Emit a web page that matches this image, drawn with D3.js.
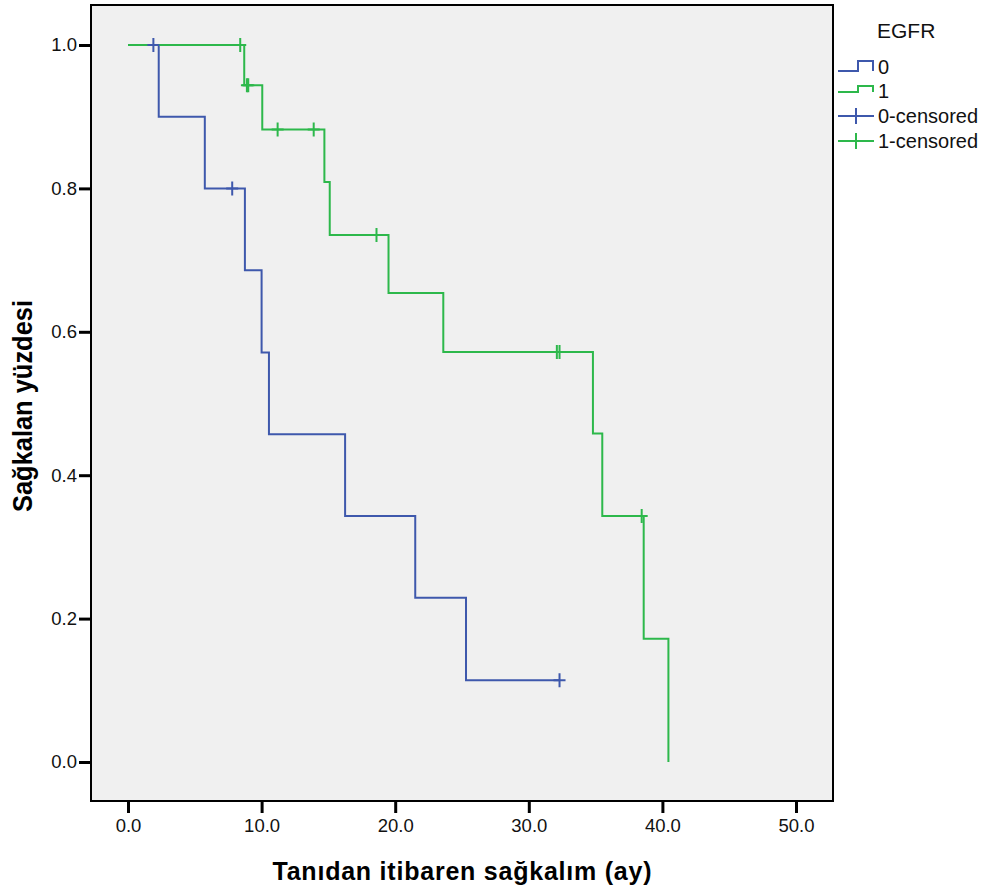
<!DOCTYPE html>
<html>
<head>
<meta charset="utf-8">
<script src="https://cdn.jsdelivr.net/npm/d3@7"></script>
<style>
  body { margin: 0; background: #fff; }
  text { font-family: "Liberation Sans", Arial, sans-serif; }
</style>
</head>
<body>
<svg class="svg"></svg>
<script>
// Kaplan-Meier step data
let egfr0Times = [0, 2.3, 5.75, 8.75, 10.0, 10.55, 16.25, 21.5, 25.3]
let egfr0Surv = [1.0, 0.9, 0.8, 0.686, 0.571, 0.457, 0.343, 0.229, 0.114]
let egfr0Censored = [1.9, 7.8, 32.3]
let egfr0End = 32.3

let egfr1Times = [0, 8.7, 10.05, 14.7, 15.1, 19.5, 23.6, 34.8, 35.5, 38.6, 40.45]
let egfr1Surv = [1.0, 0.944, 0.882, 0.809, 0.735, 0.654, 0.572, 0.458, 0.343, 0.172, 0.0]
let egfr1Censored = [8.4, 8.9, 9.0, 11.2, 13.9, 18.6, 32.1, 32.3, 38.45]
let egfr1End = 40.45

let xTicks = [0, 10, 20, 30, 40, 50]
let yTicks = [0, 0.2, 0.4, 0.6, 0.8, 1.0]
let legendLabels = ["0", "1", "0-censored", "1-censored"]

let blue = "#3E58AC"
let green = "#2DB84B"

let drawChart = () => {
    let svg = d3.select(".svg").attr("width", 985).attr("height", 890)
    svg.append("rect").attr("width", 985).attr("height", 890).attr("fill", "#fff")

    let left = 91, top = 5, right = 833, bottom = 801
    let x = d3.scaleLinear().domain([0, 50]).range([128, 796])
    let y = d3.scaleLinear().domain([0, 1]).range([762, 45])

    svg.append("rect")
        .attr("x", left).attr("y", top)
        .attr("width", right - left).attr("height", bottom - top)
        .attr("fill", "#f0f0f0")

    // axes
    let xAxis = d3.axisBottom(x).tickValues(xTicks).tickSize(12).tickFormat(d3.format(".1f"))
    let gx = svg.append("g").attr("transform", "translate(0," + bottom + ")").call(xAxis)
    let yAxis = d3.axisLeft(y).tickValues(yTicks).tickSize(12).tickFormat(d3.format(".1f"))
    let gy = svg.append("g").attr("transform", "translate(" + left + ",0)").call(yAxis)
    for (let g of [gx, gy]) {
        g.select(".domain").remove()
        g.selectAll(".tick line").attr("stroke", "#000").attr("stroke-width", 3)
        g.selectAll(".tick text").attr("fill", "#111").style("font-size", "18.5px")
    }
    gx.selectAll(".tick text").attr("y", 18)
    gy.selectAll(".tick text").attr("x", -14)

    let line = d3.line().x(d => x(d[0])).y(d => y(d[1])).curve(d3.curveStepAfter)

    let survAt = (times, surv, t) => {
        let s = surv[0]
        for (let i = 0; i < times.length; i++) {
            if (times[i] <= t) s = surv[i]
        }
        return s
    }

    let groups = [
        {times: egfr0Times, surv: egfr0Surv, cens: egfr0Censored, end: egfr0End, color: blue},
        {times: egfr1Times, surv: egfr1Surv, cens: egfr1Censored, end: egfr1End, color: green}
    ]

    groups.forEach(g => {
        let pts = g.times.map((t, i) => [t, g.surv[i]])
        let last = pts[pts.length - 1]
        if (g.end > last[0]) pts.push([g.end, last[1]])
        svg.append("path")
            .datum(pts)
            .attr("d", line)
            .attr("fill", "none")
            .attr("stroke", g.color)
            .attr("stroke-width", 2)
    })

    groups.forEach(g => {
        let marks = svg.append("g")
        marks.selectAll("path")
            .data(g.cens)
            .enter()
            .append("path")
            .attr("d", t => {
                let cx = x(t), cy = y(survAt(g.times, g.surv, t))
                return "M" + (cx - 6) + "," + cy + "H" + (cx + 6) + "M" + cx + "," + (cy - 7) + "V" + (cy + 7)
            })
            .attr("stroke", g.color)
            .attr("stroke-width", 2)
            .attr("fill", "none")
    })

    // frame on top
    svg.append("rect")
        .attr("x", left).attr("y", top)
        .attr("width", right - left).attr("height", bottom - top)
        .attr("fill", "none").attr("stroke", "#000").attr("stroke-width", 2)

    // titles
    svg.append("text")
        .attr("x", 462).attr("y", 880)
        .attr("text-anchor", "middle")
        .style("font-size", "25px").style("font-weight", "bold")
        .attr("textLength", 379)
        .text("Tanıdan itibaren sağkalım (ay)")
    svg.append("text")
        .attr("transform", "translate(32,406) rotate(-90)")
        .attr("text-anchor", "middle")
        .style("font-size", "27px").style("font-weight", "bold")
        .attr("textLength", 212).attr("lengthAdjust", "spacingAndGlyphs")
        .text("Sağkalan yüzdesi")

    // legend
    svg.append("text").attr("x", 877).attr("y", 38)
        .style("font-size", "21px").attr("fill", "#111").text("EGFR")
    let legY = [67, 91, 116, 141]
    let legend = svg.append("g")
    legend.selectAll("text")
        .data(legendLabels)
        .enter()
        .append("text")
        .attr("x", 878)
        .attr("y", (d, i) => legY[i] + 7)
        .style("font-size", "20px")
        .attr("fill", "#111")
        .text(d => d)
    legend.append("path")
        .attr("d", "M838,71H858V61H873V71")
        .attr("fill", "none").attr("stroke", blue).attr("stroke-width", 2)
    legend.append("path")
        .attr("d", "M838,92H858V86H873V92")
        .attr("fill", "none").attr("stroke", green).attr("stroke-width", 2)
    legend.append("path")
        .attr("d", "M838,116H874M856,108V124")
        .attr("fill", "none").attr("stroke", blue).attr("stroke-width", 2)
    legend.append("path")
        .attr("d", "M838,141H874M856,133V149")
        .attr("fill", "none").attr("stroke", green).attr("stroke-width", 2)
}

drawChart()
</script>
</body>
</html>
